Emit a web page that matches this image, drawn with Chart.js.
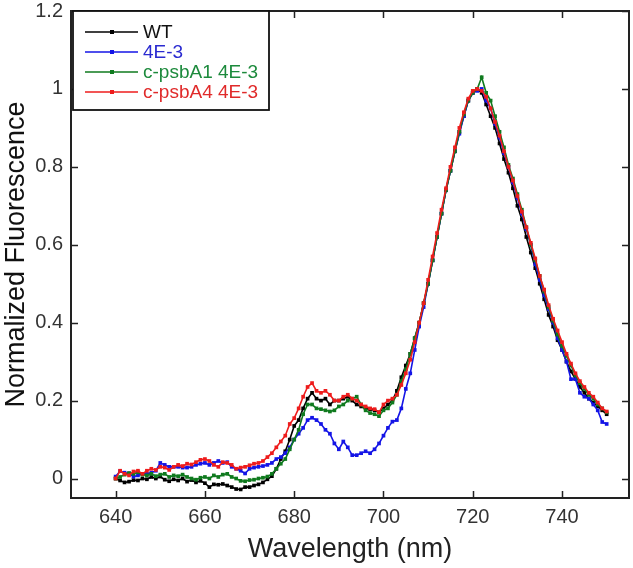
<!DOCTYPE html>
<html>
<head>
<meta charset="utf-8">
<script src="https://cdn.jsdelivr.net/npm/chart.js@4/dist/chart.umd.min.js"></script>
<style>
  html, body { margin: 0; padding: 0; background: #fff; }
  #wrap { width: 633px; height: 568px; }
</style>
</head>
<body>
<div id="wrap"><canvas id="chart"></canvas></div>
<script>
// wavelength (nm) and normalized fluorescence
const wavelengths = [
  640, 641, 642, 643, 644, 645, 646, 647, 648, 649,
  650, 651, 652, 653, 654, 655, 656, 657, 658, 659,
  660, 661, 662, 663, 664, 665, 666, 667, 668, 669,
  670, 671, 672, 673, 674, 675, 676, 677, 678, 679,
  680, 681, 682, 683, 684, 685, 686, 687, 688, 689,
  690, 691, 692, 693, 694, 695, 696, 697, 698, 699,
  700, 701, 702, 703, 704, 705, 706, 707, 708, 709,
  710, 711, 712, 713, 714, 715, 716, 717, 718, 719,
  720, 721, 722, 723, 724, 725, 726, 727, 728, 729,
  730, 731, 732, 733, 734, 735, 736, 737, 738, 739,
  740, 741, 742, 743, 744, 745, 746, 747, 748, 749,
  750
];

const wt = [
  0.0, -0.005, -0.01, -0.008, -0.004, -0.005, 0.0, -0.002, 0.004, 0.0,
  0.005, -0.003, -0.007, -0.002, -0.005, 0.0, -0.008, -0.004, -0.01, -0.006,
  -0.012, -0.022, -0.015, -0.016, -0.014, -0.018, -0.022, -0.027, -0.028, -0.022,
  -0.022, -0.018, -0.015, -0.01, -0.002, 0.006, 0.025, 0.05, 0.07, 0.1,
  0.135, 0.15, 0.18, 0.205, 0.22, 0.205, 0.2, 0.205, 0.19, 0.2,
  0.2, 0.205, 0.21, 0.2, 0.19, 0.185, 0.18, 0.178, 0.175, 0.17,
  0.18, 0.19, 0.2, 0.225, 0.26, 0.29, 0.32, 0.36, 0.4, 0.45,
  0.5, 0.56, 0.62, 0.68, 0.74, 0.79, 0.84, 0.89, 0.93, 0.97,
  0.99, 1.0, 0.99, 0.96, 0.93, 0.9, 0.86, 0.82, 0.785, 0.745,
  0.7, 0.665, 0.62, 0.58, 0.54, 0.5, 0.46, 0.42, 0.39, 0.355,
  0.33, 0.3, 0.275, 0.255, 0.235, 0.22, 0.205, 0.195, 0.185, 0.175,
  0.165
];

const mut4E3 = [
  0.005, 0.019, 0.015, 0.013, 0.005, 0.008, 0.012, 0.012, 0.015, 0.02,
  0.04, 0.035, 0.03, 0.03, 0.03, 0.028, 0.028, 0.03, 0.035, 0.038,
  0.04, 0.035, 0.04, 0.045, 0.04, 0.042, 0.03, 0.025, 0.02, 0.013,
  0.025, 0.028, 0.03, 0.032, 0.035, 0.04, 0.05, 0.055, 0.065, 0.08,
  0.1, 0.115, 0.13, 0.15, 0.156, 0.15, 0.14, 0.125, 0.115, 0.09,
  0.075, 0.095, 0.08, 0.06, 0.06, 0.065, 0.07, 0.065, 0.075, 0.09,
  0.11, 0.13, 0.146, 0.15, 0.18, 0.23, 0.27, 0.33, 0.39, 0.44,
  0.5, 0.56, 0.62, 0.68, 0.74, 0.79, 0.84, 0.885, 0.93, 0.97,
  0.99, 0.995, 1.0, 0.97, 0.95, 0.91, 0.875, 0.835, 0.8, 0.76,
  0.72, 0.68, 0.64, 0.6, 0.55, 0.51, 0.47, 0.435, 0.4, 0.36,
  0.33, 0.3, 0.255, 0.255, 0.22, 0.21, 0.205, 0.19, 0.175, 0.145,
  0.14
];

const psbA1 = [
  0.0, 0.004, 0.01, 0.014, 0.012, 0.016, 0.01, 0.008, 0.012, 0.006,
  0.01, 0.012, 0.004, 0.008, 0.006, 0.01, 0.004, 0.0, -0.003, 0.002,
  0.004, 0.0, 0.008, 0.004, 0.01, 0.012, 0.004, 0.0, -0.006, -0.007,
  -0.004, -0.003, 0.0, 0.002, 0.005, 0.012, 0.025, 0.038, 0.05, 0.075,
  0.1, 0.125, 0.165, 0.19, 0.19, 0.18, 0.178, 0.175, 0.172, 0.175,
  0.185, 0.19, 0.2, 0.205, 0.21, 0.19, 0.175, 0.168, 0.165, 0.16,
  0.175, 0.18, 0.195, 0.215, 0.25, 0.28, 0.32, 0.36, 0.4, 0.45,
  0.5, 0.56, 0.62, 0.68, 0.74, 0.79, 0.84, 0.89, 0.935, 0.97,
  0.99, 1.0, 1.03, 0.99, 0.97, 0.93, 0.89, 0.85, 0.805, 0.77,
  0.73, 0.69, 0.645, 0.6, 0.56, 0.52, 0.48, 0.44, 0.405, 0.37,
  0.34, 0.315, 0.29, 0.265, 0.245, 0.23, 0.215, 0.205, 0.19, 0.18,
  0.17
];

const psbA4 = [
  0.0, 0.02, 0.012, 0.008, 0.018, 0.02, 0.012, 0.02, 0.025, 0.022,
  0.03, 0.028, 0.022, 0.03, 0.035, 0.032, 0.038, 0.036, 0.042, 0.048,
  0.05, 0.045, 0.035, 0.03, 0.042, 0.04, 0.035, 0.025, 0.028, 0.03,
  0.034, 0.038, 0.04, 0.045, 0.055, 0.065, 0.08, 0.095, 0.11, 0.14,
  0.155, 0.18, 0.21, 0.235, 0.245, 0.225, 0.22, 0.225, 0.215, 0.2,
  0.2, 0.21, 0.215, 0.205, 0.2, 0.19, 0.185, 0.18, 0.178, 0.17,
  0.19, 0.2, 0.205, 0.215, 0.24, 0.27, 0.305, 0.35, 0.4, 0.45,
  0.51, 0.57, 0.63, 0.69, 0.745, 0.8, 0.85, 0.9, 0.94, 0.975,
  0.995, 1.0, 0.995, 0.98, 0.95, 0.915, 0.88, 0.84, 0.8, 0.765,
  0.725, 0.685, 0.645, 0.605, 0.565, 0.52, 0.485, 0.445, 0.41, 0.38,
  0.35, 0.32, 0.295, 0.27, 0.25, 0.235, 0.22, 0.21, 0.195, 0.18,
  0.172
];

const seriesNames = ["WT", "4E-3", "c-psbA1 4E-3", "c-psbA4 4E-3"];
const seriesColors = ["#000000", "#1414e6", "#0f7a1e", "#ee1c1c"];
const textColors = ["#111111", "#2a2ad0", "#1c8a3c", "#e02a2a"];

const xTicks = [640, 660, 680, 700, 720, 740];
const yTicks = [0, 0.2, 0.4, 0.6, 0.8, 1, 1.2];

const allSeries = [wt, mut4E3, psbA1, psbA4];
const FONT = "'Liberation Sans', Arial, sans-serif";

const datasets = allSeries.map((vals, i) => ({
  label: seriesNames[i],
  data: vals.map((v, j) => ({ x: wavelengths[j], y: v })),
  borderColor: seriesColors[i],
  backgroundColor: seriesColors[i],
  borderWidth: 1.6,
  pointStyle: "rect",
  pointRadius: 2.6,
  pointBorderWidth: 0,
  tension: 0,
  order: allSeries.length - i // red on top
}));

// frame, inward ticks and the boxed legend
const framePlugin = {
  id: "frame",
  afterDatasetsDraw(chart) {
    const { ctx, chartArea: a, scales } = chart;
    ctx.save();
    ctx.strokeStyle = "#222";
    ctx.lineWidth = 1.5;
    ctx.beginPath();
    xTicks.forEach(t => {
      const px = Math.round(scales.x.getPixelForValue(t)) + 0.5;
      ctx.moveTo(px, a.bottom); ctx.lineTo(px, a.bottom - 7);
      ctx.moveTo(px, a.top); ctx.lineTo(px, a.top + 7);
    });
    yTicks.forEach(t => {
      const py = Math.round(scales.y.getPixelForValue(t)) + 0.5;
      ctx.moveTo(a.left, py); ctx.lineTo(a.left + 7, py);
      ctx.moveTo(a.right, py); ctx.lineTo(a.right - 7, py);
    });
    ctx.stroke();
    ctx.lineWidth = 2;
    ctx.strokeRect(a.left, a.top, a.right - a.left, a.bottom - a.top);

    // legend box
    const lx = a.left + 2, ly = a.top, lw = 196, lh = 99;
    ctx.fillStyle = "#fff";
    ctx.fillRect(lx, ly, lw, lh);
    ctx.lineWidth = 1.8;
    ctx.strokeStyle = "#111";
    ctx.strokeRect(lx, ly, lw, lh);
    ctx.font = "19px " + FONT;
    ctx.textBaseline = "middle";
    seriesNames.forEach((name, i) => {
      const y = ly + 21 + i * 20;
      ctx.strokeStyle = seriesColors[i];
      ctx.lineWidth = 1.3;
      ctx.beginPath();
      ctx.moveTo(lx + 12, y); ctx.lineTo(lx + 65, y);
      ctx.stroke();
      ctx.fillStyle = seriesColors[i];
      ctx.fillRect(lx + 37, y - 2, 4, 4);
      ctx.fillStyle = textColors[i];
      ctx.fillText(name, lx + 70, y + 1);
    });
    ctx.restore();
  }
};

new Chart(document.getElementById("chart"), {
  type: "line",
  data: { datasets },
  options: {
    responsive: true,
    maintainAspectRatio: false,
    animation: false,
    layout: { padding: { top: 11, right: 1, left: 0, bottom: 0 } },
    plugins: {
      legend: { display: false },
      tooltip: { enabled: false }
    },
    scales: {
      x: {
        type: "linear",
        min: 630,
        max: 755,
        afterBuildTicks: s => { s.ticks = xTicks.map(v => ({ value: v })); },
        afterFit: s => { s.height = 70; s.paddingLeft = 0; s.paddingRight = 0; },
        grid: { display: false, drawTicks: false },
        border: { display: false },
        ticks: {
          padding: 7,
          color: "#333",
          font: { family: FONT, size: 20 }
        },
        title: {
          display: true,
          text: "Wavelength (nm)",
          color: "#222",
          padding: { top: 0, bottom: 2 },
          font: { family: FONT, size: 27 }
        }
      },
      y: {
        min: -0.05,
        max: 1.2,
        afterBuildTicks: s => { s.ticks = yTicks.map(v => ({ value: v })); },
        afterFit: s => { s.width = 71; s.paddingTop = 0; s.paddingBottom = 0; },
        grid: { display: false, drawTicks: false },
        border: { display: false },
        ticks: {
          padding: 8,
          color: "#333",
          font: { family: FONT, size: 20 },
          callback: v => String(v)
        },
        title: {
          display: true,
          text: "Normalized Fluorescence",
          color: "#111",
          padding: { top: 0, bottom: 0 },
          font: { family: FONT, size: 27 }
        }
      }
    }
  },
  plugins: [framePlugin]
});
</script>
</body>
</html>
